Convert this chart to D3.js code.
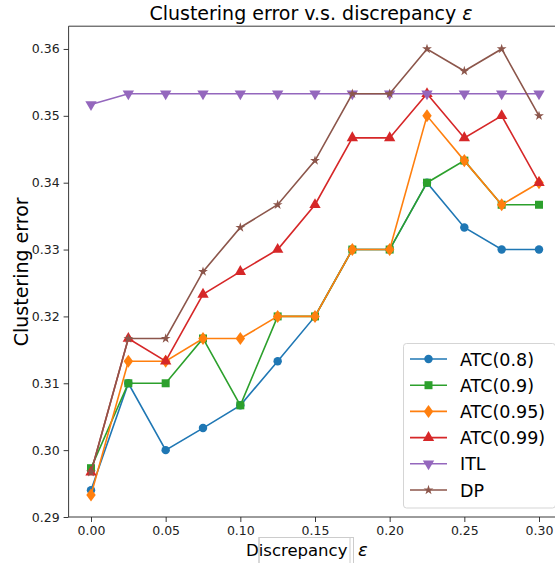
<!DOCTYPE html>
<html><head><meta charset="utf-8">
<script src="https://cdn.jsdelivr.net/npm/d3@7"></script>
<style>body{margin:0;background:#fff}svg{display:block}text{font-family:"DejaVu Sans",sans-serif}</style>
</head><body><svg id="c" width="555" height="563"></svg>
<script>
const xs = [0,0.025,0.05,0.075,0.1,0.125,0.15,0.175,0.2,0.225,0.25,0.275,0.3];
const atc08  = [0.2940,0.3100,0.3000,0.3033,0.3067,0.3133,0.3200,0.3300,0.3300,0.3400,0.3333,0.3300,0.3300];
const atc09  = [0.2973,0.3100,0.3100,0.3167,0.3067,0.3200,0.3200,0.3300,0.3300,0.3400,0.3433,0.3367,0.3367];
const atc095 = [0.2933,0.3133,0.3133,0.3167,0.3167,0.3200,0.3200,0.3300,0.3300,0.3500,0.3433,0.3367,0.3400];
const atc099 = [0.2967,0.3167,0.3133,0.3233,0.3267,0.3300,0.3367,0.3467,0.3467,0.3533,0.3467,0.3500,0.3400];
const itl    = [0.3517,0.3533,0.3533,0.3533,0.3533,0.3533,0.3533,0.3533,0.3533,0.3533,0.3533,0.3533,0.3533];
const dp     = [0.2967,0.3167,0.3167,0.3267,0.3333,0.3367,0.3433,0.3533,0.3533,0.3600,0.3567,0.3600,0.3500];
const seriesNames = ["ATC(0.8)","ATC(0.9)","ATC(0.95)","ATC(0.99)","ITL","DP"];
const xTicks = [0,0.05,0.1,0.15,0.2,0.25,0.3];
const yTicks = [0.29,0.30,0.31,0.32,0.33,0.34,0.35,0.36];

const seriesVals = [atc08,atc09,atc095,atc099,itl,dp];
const colors = ["#1f77b4","#2ca02c","#ff7f0e","#d62728","#9467bd","#8c564b"];
const symbols = [d3.symbolCircle,d3.symbolSquare,d3.symbolDiamond,d3.symbolTriangle,"tri-down",d3.symbolStar];
const sizes = [56,64,58,56,56,30];

const svg = d3.select("#c");
const L=68.6, R=561.4, T=26.7, B=517;
const x = d3.scaleLinear().domain([-0.015,0.315]).range([L,R]);
const y = d3.scaleLinear().domain([0.29,0.36333]).range([B,T]);

function symPath(s,size){
  if(s==="tri-down") return d3.symbol(d3.symbolTriangle,size)();
  return d3.symbol(s,size)();
}
function symTransform(i,px,py){
  if(symbols[i]==="tri-down") return `translate(${px},${py}) rotate(180)`;
  if(symbols[i]===d3.symbolDiamond) return `translate(${px},${py}) scale(1.15,0.92)`;
  return `translate(${px},${py})`;
}

const ax = svg.append("g");
const gx = ax.append("g").attr("transform",`translate(0,${B})`)
  .call(d3.axisBottom(x).tickValues(xTicks).tickFormat(d3.format(".2f")).tickSize(5).tickPadding(4));
const gy = ax.append("g").attr("transform",`translate(${L},0)`)
  .call(d3.axisLeft(y).tickValues(yTicks).tickFormat(d3.format(".2f")).tickSize(5).tickPadding(4));
[gx,gy].forEach(g=>{
  g.select(".domain").remove();
  g.selectAll("text").attr("font-size","12.5px").attr("fill","#222").style("font-family","DejaVu Sans");
  g.selectAll("line").attr("stroke","#222").attr("stroke-width",0.9);
});
ax.append("line").attr("x1",L).attr("x2",L).attr("y1",T-0.5).attr("y2",B).attr("stroke","#222").attr("stroke-width",0.9);
ax.append("line").attr("x1",L).attr("x2",R).attr("y1",B).attr("y2",B).attr("stroke","#222").attr("stroke-width",0.9);
ax.append("line").attr("x1",L).attr("x2",R).attr("y1",T-0.5).attr("y2",T-0.5).attr("stroke","#222").attr("stroke-width",0.9);
ax.append("line").attr("x1",R).attr("x2",R).attr("y1",T).attr("y2",B).attr("stroke","#222").attr("stroke-width",0.9);

const line = d3.line().x(d=>x(d[0])).y(d=>y(d[1]));
seriesVals.forEach((vals,i)=>{
  const pts = xs.map((xv,j)=>[xv,vals[j]]);
  const g = svg.append("g");
  g.append("path").attr("d",line(pts)).attr("fill","none").attr("stroke",colors[i]).attr("stroke-width",1.6);
  g.selectAll("path.m").data(pts).enter().append("path").attr("class","m")
    .attr("d",symPath(symbols[i],sizes[i]))
    .attr("transform",d=>symTransform(i,x(d[0]),y(d[1])))
    .attr("fill",colors[i]);
});

svg.append("text").attr("x",311).attr("y",20).attr("text-anchor","middle").attr("font-size","19px").attr("fill","#000")
  .text("Clustering error v.s. discrepancy ").append("tspan").attr("font-style","italic").text("ε");
svg.append("text").attr("transform",`translate(28,${(T+B)/2}) rotate(-90)`).attr("text-anchor","middle").attr("font-size","19px").attr("fill","#000").text("Clustering error");
svg.append("rect").attr("x",259).attr("y",537.5).attr("width",91).attr("height",30).attr("fill","none").attr("stroke","#ccc").attr("stroke-width",1);
svg.append("rect").attr("x",259).attr("y",537.5).attr("width",94.5).attr("height",30).attr("fill","none").attr("stroke","#ccc").attr("stroke-width",1);
svg.append("text").attr("x",246).attr("y",556).attr("font-size","16.5px").attr("fill","#000").text("Discrepancy");
svg.append("text").attr("x",358).attr("y",556).attr("font-size","18px").attr("font-style","italic").attr("fill","#000").text("ε");

const lg = svg.append("g");
lg.append("rect").attr("x",403.5).attr("y",343.5).attr("width",152).attr("height",164.5).attr("rx",3)
  .attr("fill","#fff").attr("fill-opacity",0.8).attr("stroke","#d5d5d5").attr("stroke-width",1);
seriesNames.forEach((n,i)=>{
  const yy = 359 + i*26.2;
  lg.append("line").attr("x1",410).attr("x2",447).attr("y1",yy).attr("y2",yy).attr("stroke",colors[i]).attr("stroke-width",1.6);
  lg.append("path").attr("d",symPath(symbols[i],sizes[i])).attr("transform",symTransform(i,428.5,yy)).attr("fill",colors[i]);
  lg.append("text").attr("x",460).attr("y",yy+6.5).attr("font-size","17.5px").attr("fill","#000").text(n);
});
</script></body></html>
